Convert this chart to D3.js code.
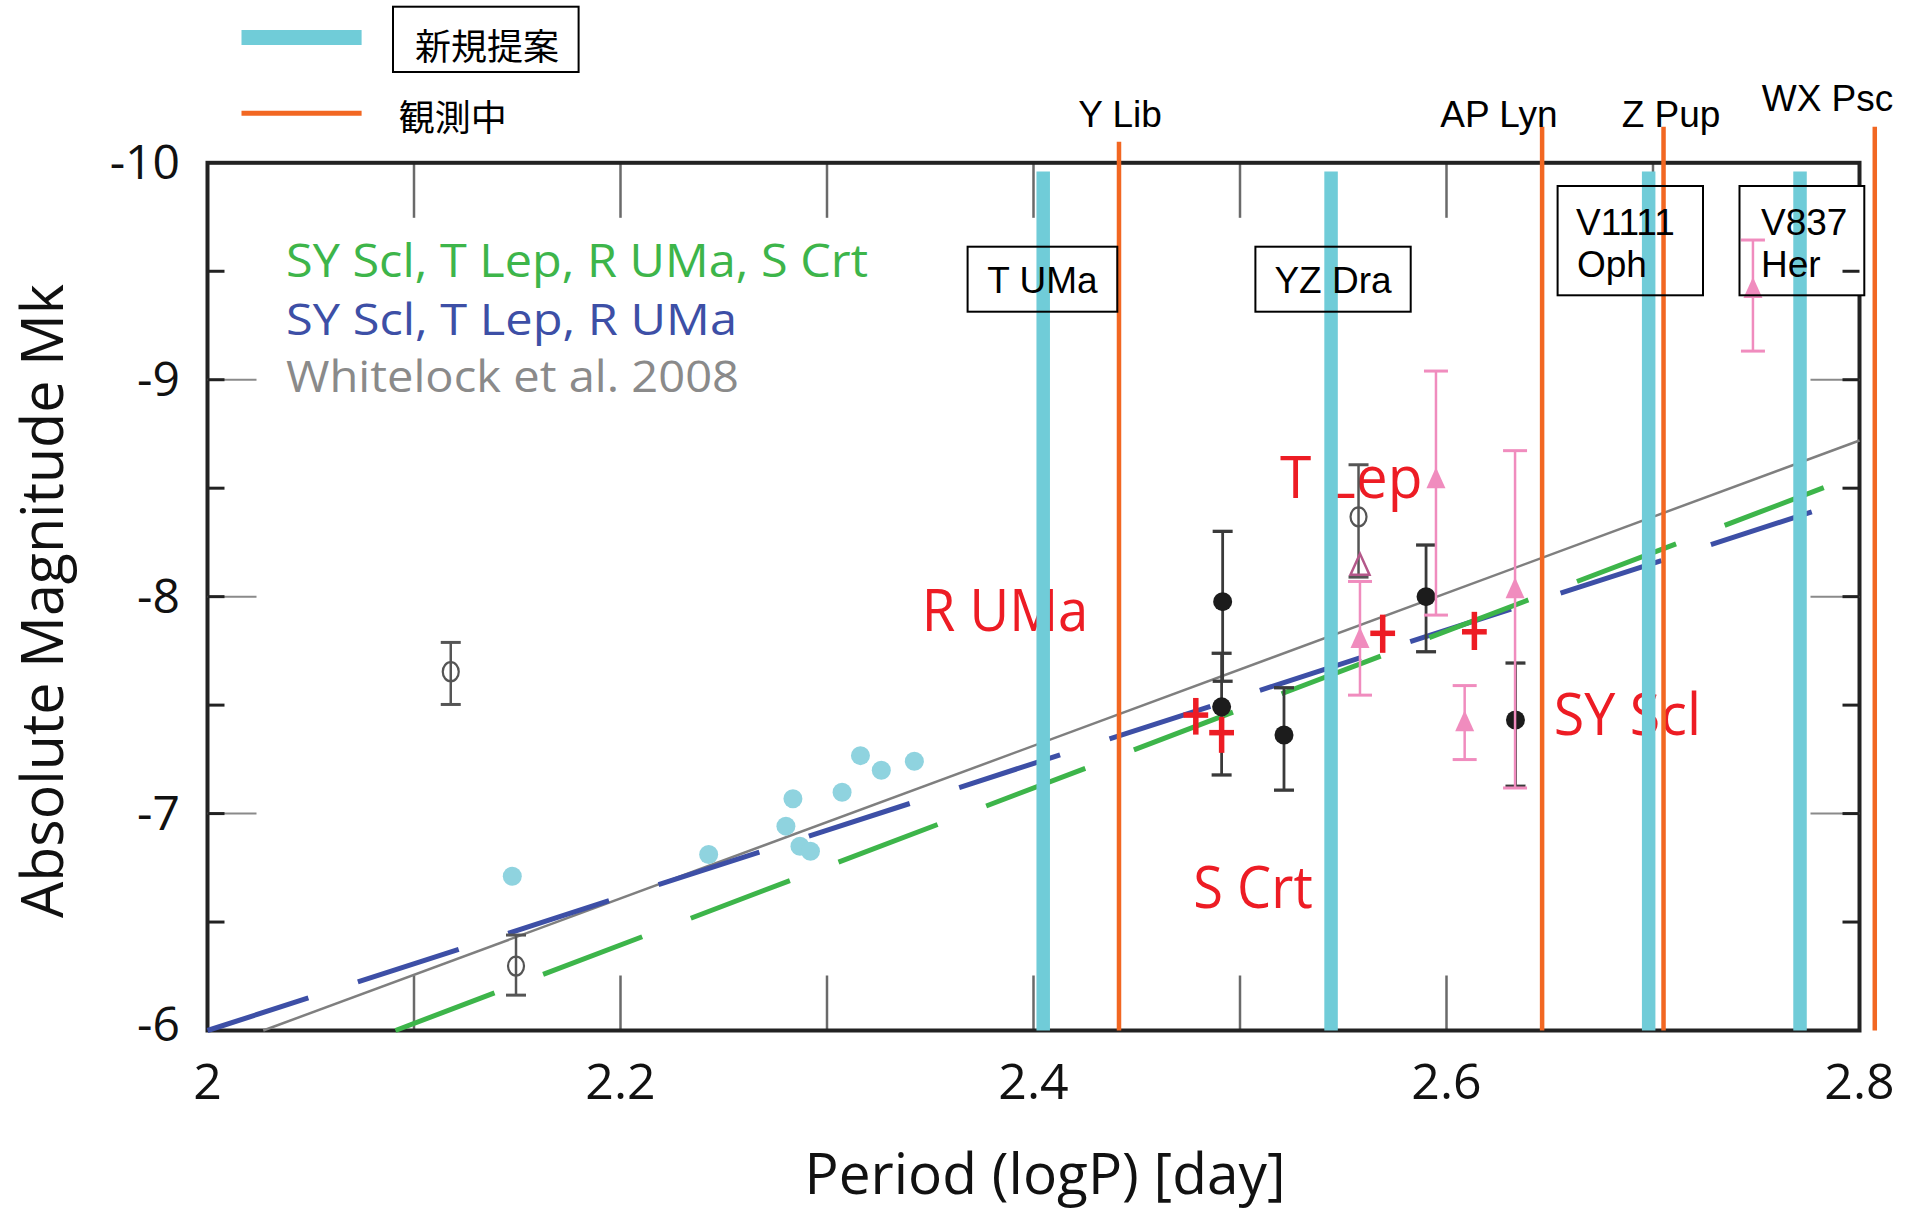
<!DOCTYPE html>
<html><head><meta charset="utf-8">
<script src="https://cdn.jsdelivr.net/npm/d3@7"></script>
<style>body{margin:0;background:#fff}</style>
</head><body><svg id="chart" width="1919" height="1212"></svg>
<script>
// ---------- data ----------
const xTickValues = [2, 2.2, 2.4, 2.6, 2.8];
const xTickLabels = ["2", "2.2", "2.4", "2.6", "2.8"];
const xTickMarks = [2.1, 2.2, 2.3, 2.4, 2.5, 2.6, 2.7];
const yTickValues = [-10, -9, -8, -7, -6];
const yTickLabels = ["-10", "-9", "-8", "-7", "-6"];
const yTickMajor = [-9, -8, -7];
const yTickMinor = [-9.5, -8.5, -7.5, -6.5];

const proposedNames = ["T UMa", "YZ Dra", "V1111 Oph", "V837 Her"];
const proposedLogP = [2.4047, 2.5441, 2.6979, 2.7712];
const observingNames = ["Y Lib", "AP Lyn", "Z Pup", "WX Psc"];
const observingLogP = [2.4414, 2.6463, 2.7051, 2.8074];

const fitNames = ["SY Scl, T Lep, R UMa, S Crt", "SY Scl, T Lep, R UMa", "Whitelock et al. 2008"];
const fitGreen = [[2.091, -6.0], [2.784, -8.507]];
const fitBlue = [[2.0, -6.0], [2.7796, -8.399]];
const fitGray = [[2.027, -6.0], [2.8, -8.72]];

const cyanLogP = [2.1476, 2.2427, 2.2835, 2.2801, 2.2869, 2.2920, 2.3073, 2.3162, 2.3263, 2.3423];
const cyanMk = [-6.711, -6.811, -7.068, -6.942, -6.849, -6.826, -7.098, -7.267, -7.200, -7.241];

// [logP, Mk, error bar bright end, error bar faint end]
const openCircles = [[2.1178, -7.654, -7.789, -7.503], [2.1494, -6.297, -6.440, -6.163], [2.5574, -8.368, -8.608, -8.09]];
const blackDots = [[2.4916, -7.977, -8.301, -7.61], [2.4911, -7.492, -7.739, -7.178], [2.5213, -7.362, -7.58, -7.108], [2.5901, -8.0, -8.238, -7.746], [2.6334, -7.431, -7.694, -7.126]];
const pinkTriangles = [[2.5581, -7.80, -8.07, -7.546], [2.5949, -8.537, -9.04, -7.915], [2.6332, -8.03, -8.673, -7.118], [2.6088, -7.416, -7.590, -7.249], [2.7484, -9.414, -9.644, -9.132]];
const pinkOpenTriangles = [[2.5581, -8.138]];
const redCrosses = [[2.4786, -7.454, -7.533, -7.364], [2.4911, -7.373, -7.446, -7.28], [2.5691, -7.831, -7.917, -7.741], [2.6135, -7.838, -7.93, -7.754]];
const redCrossLogPErr = 0.006;

const starNames = ["R UMa", "T Lep", "SY Scl", "S Crt"];
const legendNames = ["新規提案", "観測中"];
const xTitle = "Period (logP) [day]";
const yTitle = "Absolute Magnitude Mk";

// ---------- layout ----------
const svg = d3.select("#chart");
const x = d3.scaleLinear().domain([2, 2.8]).range([207.5, 1859.5]);
const y = d3.scaleLinear().domain([-10, -6]).range([162.8, 1030.5]);
const X0 = x(2), X1 = x(2.8), Y0 = y(-10), Y1 = y(-6);

const C = {
  cyan: "#70ccd8", orange: "#f26722", dot: "#8fd3df", black: "#1c1c1c",
  pink: "#f08cbe", red: "#ed1c24", green: "#3db54a", blue: "#3d4fa6", gray: "#7f7f7f"
};
const SANS = "'Open Sans', 'Noto Sans', sans-serif";
const ARIAL = "'Liberation Sans', Arial, sans-serif";

// top legend
const lg = svg.append("g");
lg.append("line").attr("x1", 241.5).attr("x2", 361.6).attr("y1", 37.5).attr("y2", 37.5)
  .attr("stroke", C.cyan).attr("stroke-width", 15);
lg.append("line").attr("x1", 241.5).attr("x2", 361.6).attr("y1", 113.3).attr("y2", 113.3)
  .attr("stroke", C.orange).attr("stroke-width", 5);
lg.append("rect").attr("x", 393).attr("y", 6.7).attr("width", 185.6).attr("height", 65.3)
  .attr("fill", "none").attr("stroke", "#000").attr("stroke-width", 2);
lg.append("text").attr("x", 487).attr("y", 44).attr("text-anchor", "middle").attr("dominant-baseline", "central")
  .attr("font-family", "'Noto Sans CJK JP', sans-serif").attr("font-size", 36).text(legendNames[0]);
lg.append("text").attr("x", 398.7).attr("y", 115).attr("dominant-baseline", "central")
  .attr("font-family", "'Noto Sans CJK JP', sans-serif").attr("font-size", 36).text(legendNames[1]);

// x ticks (top & bottom)
const tk = svg.append("g");
xTickMarks.forEach(v => {
  tk.append("line").attr("x1", x(v)).attr("x2", x(v)).attr("y1", Y0).attr("y2", Y0 + 55)
    .attr("stroke", "#6a6a6a").attr("stroke-width", 2.5);
  tk.append("line").attr("x1", x(v)).attr("x2", x(v)).attr("y1", Y1).attr("y2", Y1 - 55)
    .attr("stroke", "#6a6a6a").attr("stroke-width", 2.5);
});

// frame
svg.append("rect").attr("x", X0).attr("y", Y0).attr("width", X1 - X0).attr("height", Y1 - Y0)
  .attr("fill", "none").attr("stroke", "#222").attr("stroke-width", 4);

// label boxes (fill)
const boxLayout = [
  {x: 967.6, y: 246.7, w: 149.7, h: 65, lines: [{t: "T UMa", x: 1042.5, y: 293, a: "middle"}]},
  {x: 1255.4, y: 246.7, w: 155.3, h: 65, lines: [{t: "YZ Dra", x: 1333, y: 293, a: "middle"}]},
  {x: 1557.6, y: 186, w: 145.4, h: 109.3, lines: [{t: "V1111", x: 1576, y: 235, a: "start"}, {t: "Oph", x: 1577, y: 277, a: "start"}]},
  {x: 1739.5, y: 186, w: 124.8, h: 109.3, lines: [{t: "V837", x: 1761, y: 235, a: "start"}, {t: "Her", x: 1761, y: 277, a: "start"}]}
];
boxLayout.forEach(b => svg.append("rect").attr("x", b.x).attr("y", b.y).attr("width", b.w).attr("height", b.h).attr("fill", "#fff"));

// y ticks (left & right)
yTickMinor.forEach(v => {
  svg.append("line").attr("x1", X0).attr("x2", X0 + 17).attr("y1", y(v)).attr("y2", y(v)).attr("stroke", "#222").attr("stroke-width", 3);
  svg.append("line").attr("x1", X1).attr("x2", X1 - 17).attr("y1", y(v)).attr("y2", y(v)).attr("stroke", "#222").attr("stroke-width", 3);
});
yTickMajor.forEach(v => {
  svg.append("line").attr("x1", X0).attr("x2", X0 + 49).attr("y1", y(v)).attr("y2", y(v)).attr("stroke", "#8a8a8a").attr("stroke-width", 2);
  svg.append("line").attr("x1", X0).attr("x2", X0 + 17).attr("y1", y(v)).attr("y2", y(v)).attr("stroke", "#222").attr("stroke-width", 3);
  svg.append("line").attr("x1", X1).attr("x2", X1 - 49).attr("y1", y(v)).attr("y2", y(v)).attr("stroke", "#8a8a8a").attr("stroke-width", 2);
  svg.append("line").attr("x1", X1).attr("x2", X1 - 17).attr("y1", y(v)).attr("y2", y(v)).attr("stroke", "#222").attr("stroke-width", 3);
});

// tick labels
svg.append("g").selectAll("text").data(xTickValues).join("text")
  .attr("x", d => x(d)).attr("y", 1080).attr("text-anchor", "middle").attr("dominant-baseline", "central")
  .attr("font-family", SANS).attr("font-size", 50).attr("fill", "#111").text((d, i) => xTickLabels[i]);
svg.append("g").selectAll("text").data(yTickValues).join("text")
  .attr("x", 180).attr("y", d => y(d) - (d === -6 ? 8 : 2)).attr("text-anchor", "end").attr("dominant-baseline", "central")
  .attr("font-family", SANS).attr("font-size", 48).attr("fill", "#111").text((d, i) => yTickLabels[i]);

// axis titles
svg.append("text").attr("x", 1045).attr("y", 1194).attr("text-anchor", "middle")
  .attr("font-family", SANS).attr("font-size", 57).attr("fill", "#111")
  .attr("textLength", 481).attr("lengthAdjust", "spacingAndGlyphs").text(xTitle);
svg.append("text").attr("transform", "translate(63,601) rotate(-90)").attr("text-anchor", "middle")
  .attr("font-family", SANS).attr("font-size", 58).attr("fill", "#111")
  .attr("textLength", 634).attr("lengthAdjust", "spacingAndGlyphs").text(yTitle);

// in-plot legend of fits
const fitLayout = [
  {color: C.green, y: 277, size: 46, len: 582},
  {color: C.blue, y: 335, size: 43, len: 451},
  {color: "#8a8a8a", y: 392, size: 43, len: 453}
];
fitNames.forEach((n, i) => {
  const f = fitLayout[i];
  svg.append("text").attr("x", 286).attr("y", f.y).attr("font-family", SANS).attr("font-size", f.size)
    .attr("fill", f.color).attr("textLength", f.len).attr("lengthAdjust", "spacingAndGlyphs").text(n);
});

// star name labels (red)
const starLayout = [
  {x: 921.7, y: 631, len: 166.7},
  {x: 1280, y: 498.3, len: 142.5},
  {x: 1553.7, y: 735, len: 147.3},
  {x: 1193.3, y: 907.7, len: 119.4}
];
starNames.forEach((n, i) => {
  const s = starLayout[i];
  svg.append("text").attr("x", s.x).attr("y", s.y).attr("font-family", SANS).attr("font-size", 58)
    .attr("fill", C.red).attr("textLength", s.len).attr("lengthAdjust", "spacingAndGlyphs").text(n);
});

// fit lines
const line = d3.line().x(d => x(d[0])).y(d => y(d[1]));
svg.append("path").attr("d", line(fitGray)).attr("stroke", C.gray).attr("stroke-width", 2.5).attr("fill", "none");
svg.append("path").attr("d", line(fitBlue)).attr("stroke", C.blue).attr("stroke-width", 5).attr("fill", "none").attr("stroke-dasharray", "106,52");
svg.append("path").attr("d", line(fitGreen)).attr("stroke", C.green).attr("stroke-width", 5).attr("fill", "none").attr("stroke-dasharray", "106,52");

// cyan dots
svg.append("g").selectAll("circle").data(cyanLogP).join("circle")
  .attr("cx", d => x(d)).attr("cy", (d, i) => y(cyanMk[i])).attr("r", 9.5).attr("fill", C.dot);

function errBar(g, d, color, w, cap) {
  g.append("line").attr("x1", x(d[0])).attr("x2", x(d[0])).attr("y1", y(d[2])).attr("y2", y(d[3])).attr("stroke", color).attr("stroke-width", w);
  [d[2], d[3]].forEach(v => g.append("line").attr("x1", x(d[0]) - cap / 2).attr("x2", x(d[0]) + cap / 2)
    .attr("y1", y(v)).attr("y2", y(v)).attr("stroke", color).attr("stroke-width", w + 0.5));
}

// black dots
const gb = svg.append("g");
blackDots.forEach(d => errBar(gb, d, "#3a3a3a", 2.8, 20));
blackDots.forEach(d => gb.append("circle").attr("cx", x(d[0])).attr("cy", y(d[1])).attr("r", 9.5).attr("fill", C.black));

// open circles
const go = svg.append("g");
openCircles.forEach(d => errBar(go, d, "#555", 2.5, 20));
openCircles.forEach(d => go.append("ellipse").attr("cx", x(d[0])).attr("cy", y(d[1])).attr("rx", 8).attr("ry", 9.5)
  .attr("fill", "none").attr("stroke", "#555").attr("stroke-width", 2.2));

// pink triangles
const gp = svg.append("g");
pinkTriangles.forEach(d => errBar(gp, d, C.pink, 2.5, 24));
const tri = (cx, cy) => `M${cx},${cy - 13}L${cx + 9.5},${cy + 8}L${cx - 9.5},${cy + 8}Z`;
pinkTriangles.forEach(d => gp.append("path").attr("d", tri(x(d[0]), y(d[1]))).attr("fill", C.pink));
pinkOpenTriangles.forEach(d => gp.append("path").attr("d", tri(x(d[0]), y(d[1]))).attr("fill", "none")
  .attr("stroke", "#b4588a").attr("stroke-width", 2.5));

// red crosses
const gr = svg.append("g");
redCrosses.forEach(d => {
  gr.append("line").attr("x1", x(d[0])).attr("x2", x(d[0])).attr("y1", y(d[2])).attr("y2", y(d[3]))
    .attr("stroke", C.red).attr("stroke-width", 5.5);
  gr.append("line").attr("x1", x(d[0] - redCrossLogPErr)).attr("x2", x(d[0] + redCrossLogPErr)).attr("y1", y(d[1])).attr("y2", y(d[1]))
    .attr("stroke", C.red).attr("stroke-width", 5.5);
});

// vertical lines: proposed (cyan) and under observation (orange)
svg.append("g").selectAll("line").data(proposedLogP).join("line")
  .attr("x1", d => x(d)).attr("x2", d => x(d)).attr("y1", y(-9.96)).attr("y2", Y1)
  .attr("stroke", C.cyan).attr("stroke-width", 13.5);
const orangeTop = [141.7, 126.7, 126.7, 126.7];
svg.append("g").selectAll("line").data(observingLogP).join("line")
  .attr("x1", d => x(d)).attr("x2", d => x(d)).attr("y1", (d, i) => orangeTop[i]).attr("y2", Y1)
  .attr("stroke", C.orange).attr("stroke-width", 4.5);

// observing labels
const obsLayout = [{x: 1120, y: 127.3}, {x: 1499, y: 127.3}, {x: 1671, y: 127.3}, {x: 1827.5, y: 111}];
observingNames.forEach((n, i) => svg.append("text").attr("x", obsLayout[i].x).attr("y", obsLayout[i].y)
  .attr("text-anchor", "middle").attr("font-family", ARIAL).attr("font-size", 37).attr("fill", "#000").text(n));

// label boxes (stroke + text)
boxLayout.forEach((b, i) => {
  svg.append("rect").attr("x", b.x).attr("y", b.y).attr("width", b.w).attr("height", b.h)
    .attr("fill", "none").attr("stroke", "#000").attr("stroke-width", 2);
  b.lines.forEach(l => svg.append("text").attr("x", l.x).attr("y", l.y).attr("text-anchor", l.a)
    .attr("font-family", ARIAL).attr("font-size", 37).attr("fill", "#000").text(l.t));
});
</script>
</body></html>
